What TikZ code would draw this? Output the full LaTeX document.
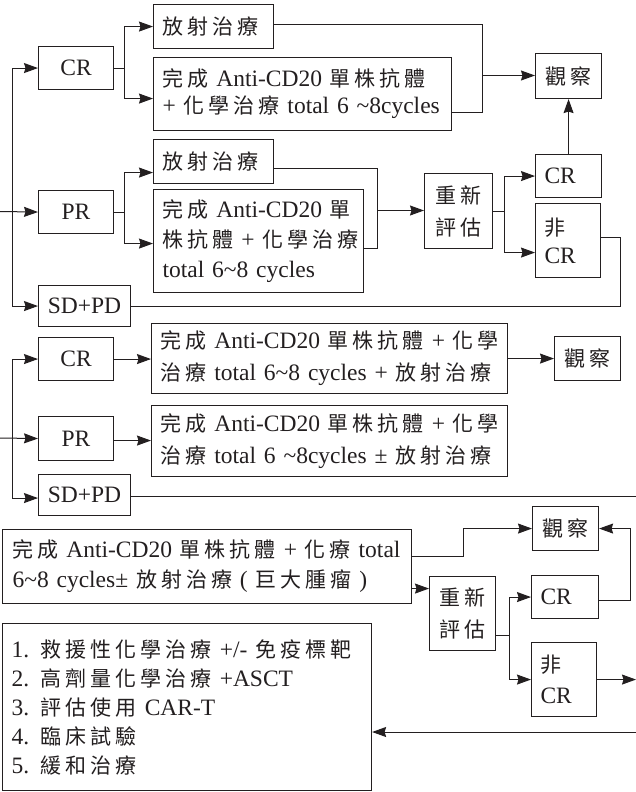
\documentclass[tikz,border=0pt]{standalone}
\usepackage{fontspec}
\setmainfont{Liberation Serif}
\newfontfamily\cjkfont{Noto Sans CJK TC}
\usetikzlibrary{arrows.meta}
\definecolor{lc}{RGB}{35,31,32}
\newlength\zhgap
\setlength\zhgap{4pt}
\def\zhend{ZHEND}
\def\zhstop#1{}
\def\zhloop#1#2{#1\ifx#2\zhend\expandafter\zhstop\else\kern\zhgap\expandafter\zhloop\fi#2}
\newcommand\zh[1]{{\cjkfont\fontsize{21}{31}\selectfont\zhloop#1\zhend}}
\newcommand\lf[1]{\fontsize{23.5}{#1}\selectfont}
\newcommand\tld{\textasciitilde}
\begin{document}
\begin{tikzpicture}[x=1pt,y=-1pt,
  box/.style={draw=lc, line width=1.1pt, inner xsep=9pt, inner ysep=0pt, anchor=north west, text=lc, font=\lf{31}},
  cbox/.style={box, align=center},
  lbox/.style={box, align=left},
  ln/.style={draw=lc, line width=1pt},
  arr/.style={ln, -{Stealth[length=14pt,width=10pt,inset=1.5pt]}}]
\fill[white] (0,0) rectangle (636,792);
\useasboundingbox (0,0) rectangle (636,792);
\coordinate (railA) at (12,0);
\coordinate (redge) at (636,0);

% ---------- section 1 ----------
\node[lbox, minimum width=120pt, text width=102pt, minimum height=44pt] (rt1) at (153,4) {\zh{放射治療}};
\node[cbox, minimum width=75pt, minimum height=43pt] (cr1) at (38,46) {CR};
\node[lbox, minimum width=298pt, text width=280pt, minimum height=73pt, font=\lf{27}] (boxA) at (153,57)
  {\mbox{\zh{完成} Anti-CD20 \zh{單株抗體}}\\\mbox{+ \zh{化學治療} total 6 \tld8cycles}};
\node[lbox, minimum width=120pt, text width=102pt, minimum height=44pt] (rt2) at (153,139) {\zh{放射治療}};
\node[cbox, minimum width=75pt, minimum height=43pt] (pr1) at (38,190) {PR};
\node[lbox, minimum width=210pt, text width=192pt, minimum height=103pt, font=\lf{30}] (boxB) at (153,189)
  {\mbox{\zh{完成} Anti-CD20 \zh{單}}\\\mbox{\zh{株抗體} + \zh{化學治療}}\\\mbox{total 6\tld8 cycles}};
\node[cbox, minimum width=92pt, minimum height=41pt] (sdpd1) at (38,285) {SD+PD};
\node[cbox, minimum width=66pt, minimum height=45pt] (obs1) at (535,53) {\zh{觀察}};
\node[cbox, minimum width=68pt, minimum height=75pt, font=\lf{32}] (re1) at (424,173) {\zh{重新}\\\zh{評估}};
\node[lbox, minimum width=66pt, text width=48pt, minimum height=43pt] (crR1) at (535,154) {CR};
\node[lbox, minimum width=65pt, text width=47pt, minimum height=74pt, font=\lf{28}] (ncr1) at (535,203) {\zh{非}\\CR};

\coordinate (in1) at (0,211.5);
\draw[ln] (cr1.west -| railA) -- (sdpd1.west -| railA);
\draw[arr] (cr1.west -| railA) -- (cr1.west);
\draw[arr] (sdpd1.west -| railA) -- (sdpd1.west);
\draw[arr] (in1) -- (pr1.west);

\draw[arr] (cr1.east) -- ++(10,0) |- (rt1.west);
\draw[arr] (cr1.east) -- ++(10,0) |- ([yshift=-4.5pt]boxA.west);
\draw[arr] (pr1.east) -- ++(10,0) |- ([yshift=-11pt]rt2.west);
\draw[arr] (pr1.east) -- ++(10,0) |- ([yshift=-2.5pt]boxB.west);

\coordinate (j1) at (482,75.5);
\draw[ln] ([yshift=2pt]rt1.east) -| (j1);
\draw[ln] ([yshift=-18.5pt]boxA.east) -| (j1);
\draw[arr] (j1) -- (j1 -| obs1.west);

\coordinate (j2) at (377,210.5);
\draw[ln] ([yshift=-7pt]rt2.east) -| (j2);
\draw[ln] ([yshift=-7.5pt]boxB.east) -| (j2);
\draw[arr] (j2) -- (j2 -| re1.west);

\draw[arr] (re1.east) -- ++(11,0) |- (crR1.west);
\draw[arr] (re1.east) -- ++(11,0) |- ([yshift=-12pt]ncr1.west);
\draw[arr] (crR1.north) -- (obs1.south);
\draw[ln] ([yshift=3pt]ncr1.east) -- ++(19,0) |- (sdpd1.east);

% ---------- section 2 ----------
\node[cbox, minimum width=75pt, minimum height=43pt] (cr2) at (38,337) {CR};
\node[lbox, minimum width=356pt, text width=338pt, minimum height=70pt, font=\lf{32}] (boxC) at (151,323)
  {\mbox{\zh{完成} Anti-CD20 \zh{單株抗體} + \zh{化學}}\\\mbox{\zh{治療} total 6\tld8 cycles + \zh{放射治療}}};
\node[cbox, minimum width=66pt, minimum height=44pt] (obs2) at (554,336) {\zh{觀察}};
\node[cbox, minimum width=75pt, minimum height=44pt] (pr2) at (38,416) {PR};
\node[lbox, minimum width=356pt, text width=338pt, minimum height=71pt, font=\lf{32}] (boxD) at (151,405)
  {\mbox{\zh{完成} Anti-CD20 \zh{單株抗體} + \zh{化學}}\\\mbox{\zh{治療} total 6 \tld8cycles ± \zh{放射治療}}};
\node[cbox, minimum width=92pt, minimum height=41pt] (sdpd2) at (38,474) {SD+PD};

\coordinate (in2) at (0,438);
\draw[ln] (cr2.west -| railA) -- ([yshift=-3pt]sdpd2.west -| railA);
\draw[arr] (cr2.west -| railA) -- (cr2.west);
\draw[arr] ([yshift=-3pt]sdpd2.west -| railA) -- ([yshift=-3pt]sdpd2.west);
\draw[arr] (in2) -- (pr2.west);
\draw[arr] (cr2.east) -- (cr2.east -| boxC.west);
\draw[arr] (boxC.east) -- (boxC.east -| obs2.west);
\draw[arr] ([yshift=-2pt]pr2.east) -- ([yshift=-2pt]pr2.east -| boxD.west);
\draw[ln] ([yshift=-1.5pt]sdpd2.east) -- ([yshift=-1.5pt]sdpd2.east -| redge);

% ---------- section 3 ----------
\node[lbox, minimum width=407pt, text width=389pt, minimum height=74pt, inner xsep=10pt, font=\lf{30}] (boxE) at (2,529)
  {\mbox{\zh{完成} Anti-CD20 \zh{單株抗體} + \zh{化療} total}\\\mbox{6\tld8 cycles± \zh{放射治療} ( \zh{巨大腫瘤} )}};
\node[cbox, minimum width=66pt, minimum height=44pt] (obs3) at (532,506) {\zh{觀察}};
\node[cbox, minimum width=66pt, minimum height=74pt, font=\lf{32}] (re3) at (429,576) {\zh{重新}\\\zh{評估}};
\node[lbox, minimum width=67pt, text width=49pt, minimum height=43pt] (crR3) at (531,575) {CR};
\node[lbox, minimum width=65pt, text width=47pt, minimum height=74pt, font=\lf{31}] (ncr3) at (531,642) {\zh{非}\\CR};
\node[lbox, minimum width=369pt, text width=351pt, minimum height=167pt, font=\lf{29}] (list) at (2,623)
  {\mbox{1. \zh{救援性化學治療} +/- \zh{免疫標靶}}\\
   \mbox{2. \zh{高劑量化學治療} +ASCT}\\
   \mbox{3. \zh{評估使用} CAR-T}\\
   \mbox{4. \zh{臨床試驗}}\\
   \mbox{5. \zh{緩和治療}}};

\draw[arr] ([yshift=10pt]boxE.east) -- ++(51,0) |- (obs3.west);
\coordinate (e2) at ([yshift=-22pt]boxE.east);
\draw[arr] (e2) -- (e2 -| re3.west);
\coordinate (e3) at ([yshift=-22pt]re3.east);
\draw[arr] (e3) -- ++(13,0) |- (crR3.west);
\draw[arr] (e3) -- ++(13,0) |- (ncr3.west);
\draw[arr] ([yshift=-3.5pt]crR3.east) -- ++(31,0) |- (obs3.east);
\draw[arr] (ncr3.east) -- (ncr3.east -| redge);
\coordinate (lr) at (636,732);
\draw[arr] (lr) -- (lr -| list.east);
\end{tikzpicture}
\end{document}
